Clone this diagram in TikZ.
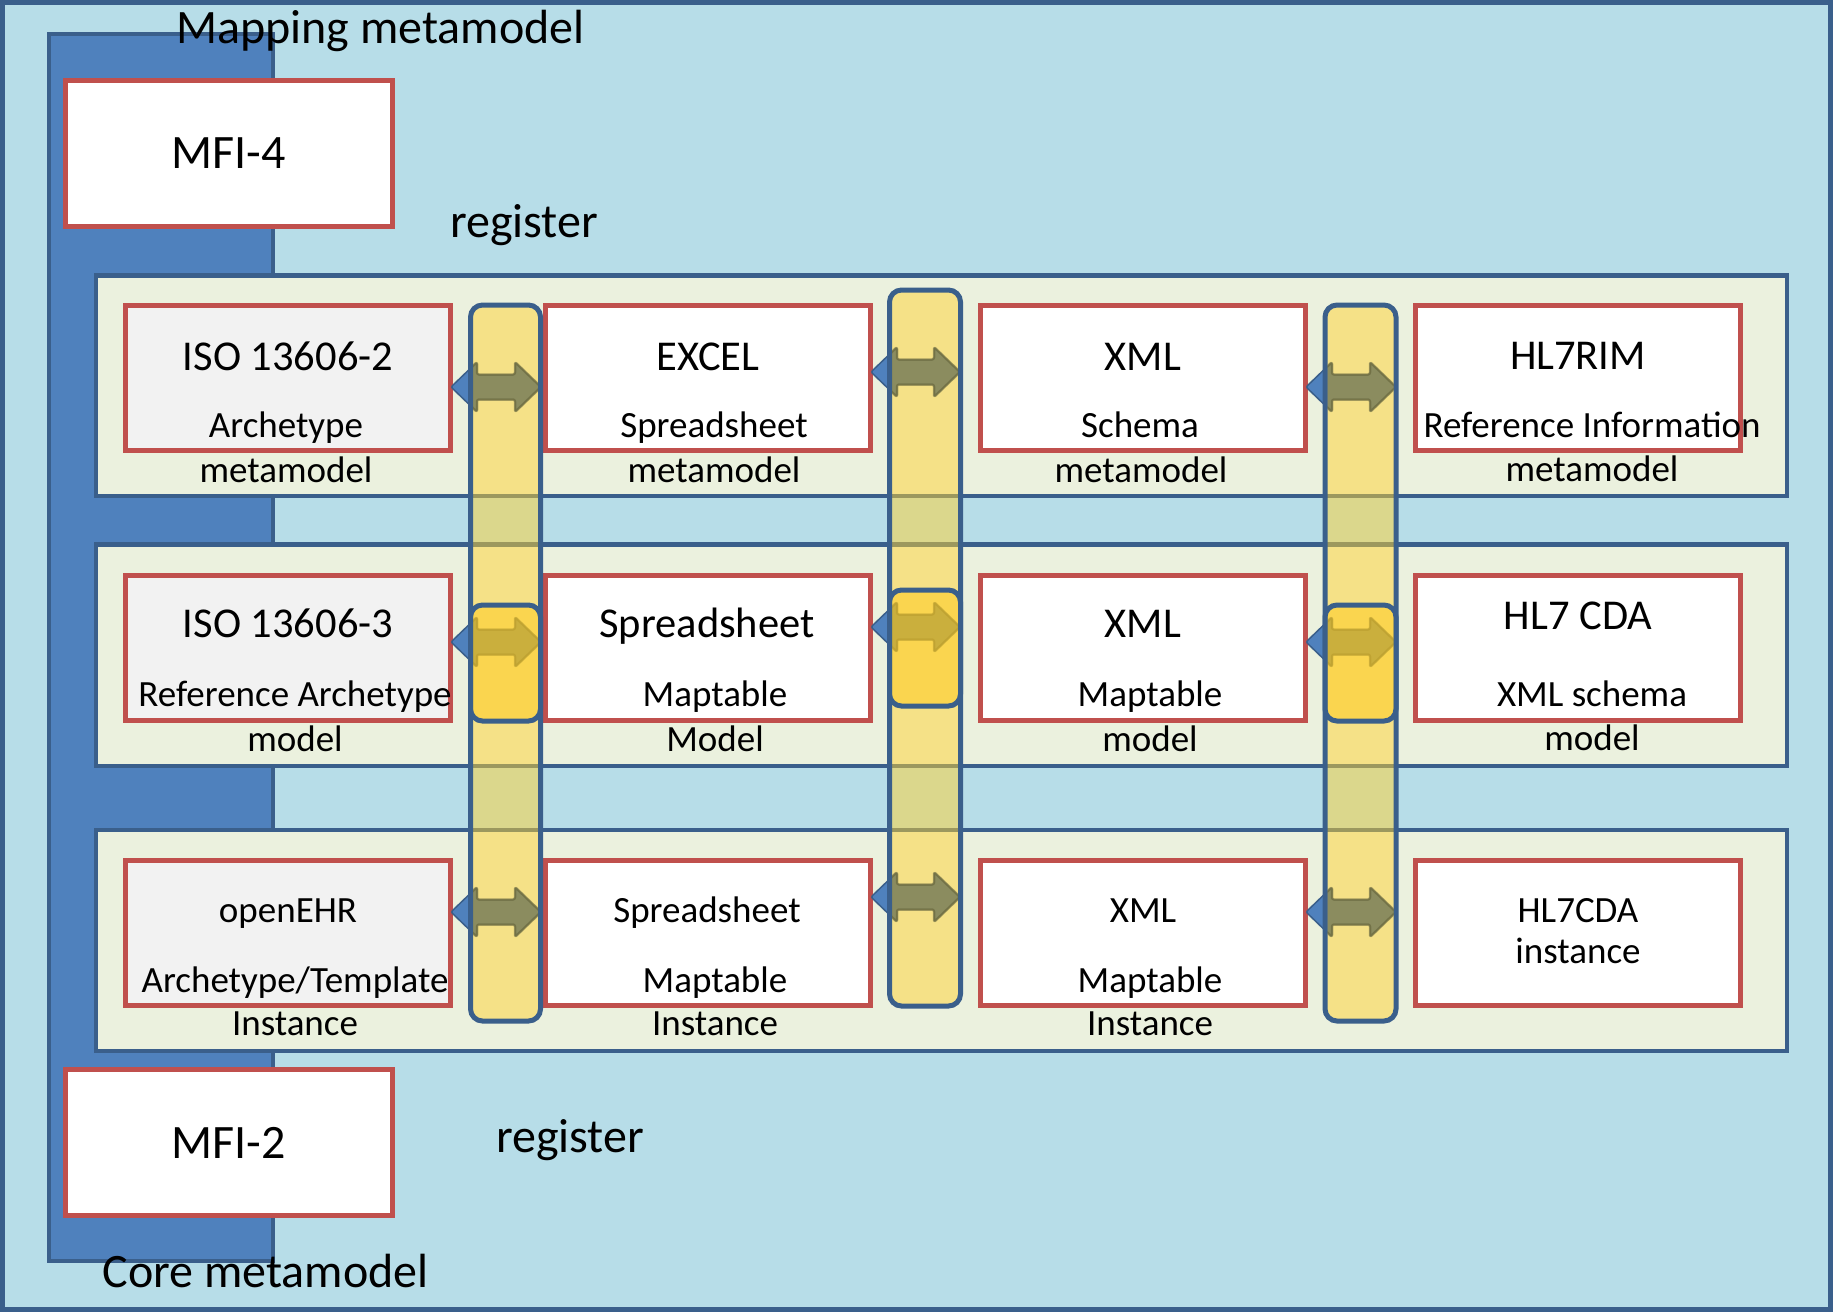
\documentclass[tikz,border=0pt]{standalone}
\usepackage{fontspec}
\setmainfont{Carlito}
\definecolor{lineblue}{HTML}{3A5F8B}
\definecolor{outerfill}{HTML}{B7DDE8}
\definecolor{barblue}{HTML}{4F81BD}
\definecolor{panelfill}{HTML}{EBF1DE}
\definecolor{boxred}{HTML}{C0504D}
\definecolor{boxgray}{HTML}{F2F2F2}
\definecolor{colyellow}{HTML}{FFD232}
\definecolor{hiyellow}{HTML}{FFCC22}
\definecolor{arrowblue}{HTML}{4F81BD}
\definecolor{olivedark}{HTML}{5E5E3A}
\newcommand\dblarr[4][]{%
  \path[#1, line join=round, rounded corners=2pt]
    (#2,#4) -- ++(26,-25) -- ++(0,12.5) -- (#3-26,#4-12.5) -- ++(0,-12.5) -- (#3,#4)
    -- (#3-26,#4+25) -- ++(0,-12.5) -- (#2+26,#4+12.5) -- ++(0,12.5) -- cycle;}
\begin{document}
\begin{tikzpicture}[x=1pt,y=-1pt,
  outerbox/.style={draw=lineblue, line width=4.5pt, fill=outerfill},
  barbox/.style={draw=lineblue, line width=4pt, fill=barblue},
  panelbox/.style={draw=lineblue, line width=4.5pt, fill=panelfill},
  itembox/.style={draw=boxred, line width=5pt, fill=white, minimum width=325pt, minimum height=145pt, inner sep=0pt},
  grayitem/.style={itembox, fill=boxgray},
  colbox/.style={draw=lineblue, line width=5pt, fill=colyellow, fill opacity=0.5, rounded corners=12pt},
  hibox/.style={draw=lineblue, line width=5pt, fill=hiyellow, fill opacity=0.55, rounded corners=12pt},
  bluearrow/.style={fill=arrowblue, draw=lineblue, line width=1.5pt},
  arrowshade/.style={fill=olivedark, fill opacity=0.38, draw=olivedark, draw opacity=0.45, line width=2.5pt},
  ttl/.style={font=\fontsize{42.5}{50}\selectfont, anchor=base, inner sep=0pt},
  sub/.style={font=\fontsize{37}{44}\selectfont, anchor=base, inner sep=0pt},
  lbl/.style={font=\fontsize{48}{57}\selectfont, anchor=base, inner sep=0pt}]
\useasboundingbox (0,0) rectangle (1833,1312);
% backgrounds
\path[outerbox] (2.5,2.5) rectangle (1830.5,1309.5);
\path[barbox] (49,34) rectangle (273,1261);
\path[panelbox] (96,275.5) rectangle (1787,496);
\path[panelbox] (96,544.5) rectangle (1787,766);
\path[panelbox] (96,830) rectangle (1787,1051);
% MFI boxes
\node[itembox, minimum width=327pt, minimum height=146pt] (mfi4) at (228.5,153) {};
\node[lbl] (mfi4t) at (228.5,168) {MFI-4};
\node[itembox, minimum width=327pt, minimum height=146pt] (mfi2) at (228.5,1142) {};
\node[lbl] (mfi2t) at (228.5,1158) {MFI-2};
% outer labels
\node[lbl] (mapping) at (380.5,43) {Mapping metamodel};
\node[lbl] (reg1) at (524,237) {register};
\node[lbl] (reg2) at (570,1152) {register};
\node[lbl] (core) at (265.6,1287) {Core metamodel};
% row 1
\node[grayitem] (a1) at (288,378) {};
\node[itembox] (b1) at (708,378) {};
\node[itembox] (c1) at (1142.5,378) {};
\node[itembox] (d1) at (1577.5,378) {};
% row 2
\node[grayitem] (a2) at (288,647.5) {};
\node[itembox] (b2) at (708,647.5) {};
\node[itembox] (c2) at (1142.5,647.5) {};
\node[itembox] (d2) at (1577.5,647.5) {};
% row 3
\node[grayitem] (a3) at (288,933) {};
\node[itembox] (b3) at (708,933) {};
\node[itembox] (c3) at (1142.5,933) {};
\node[itembox] (d3) at (1577.5,933) {};
% texts row 1
\node[ttl] (a1t) at (288,370) {ISO 13606-2};
\node[sub] (a1s) at (286,437) {Archetype};
\node[sub] (a1m) at (286,482) {metamodel};
\node[ttl] (b1t) at (708,370) {EXCEL};
\node[sub] (b1s) at (714,437) {Spreadsheet};
\node[sub] (b1m) at (714,482) {metamodel};
\node[ttl] (c1t) at (1143,370) {XML};
\node[sub] (c1s) at (1140,437) {Schema};
\node[sub] (c1m) at (1141,482) {metamodel};
\node[ttl] (d1t) at (1578,369) {HL7RIM};
\node[sub] (d1s) at (1592,437) {Reference Information};
\node[sub] (d1m) at (1592,481) {metamodel};
% texts row 2
\node[ttl] (a2t) at (288,637) {ISO 13606-3};
\node[sub] (a2s) at (295,706) {Reference Archetype};
\node[sub] (a2m) at (295,751) {model};
\node[ttl] (b2t) at (707,637) {Spreadsheet};
\node[sub] (b2s) at (715,706) {Maptable};
\node[sub] (b2m) at (715,751) {Model};
\node[ttl] (c2t) at (1143,637) {XML};
\node[sub] (c2s) at (1150,706) {Maptable};
\node[sub] (c2m) at (1150,751) {model};
\node[ttl] (d2t) at (1578,629) {HL7 CDA};
\node[sub] (d2s) at (1592,706) {XML schema};
\node[sub] (d2m) at (1592,750) {model};
% texts row 3
\node[sub] (a3t) at (288,922) {openEHR};
\node[sub] (a3s) at (295,992) {Archetype/Template};
\node[sub] (a3m) at (295,1035) {Instance};
\node[sub] (b3t) at (707,922) {Spreadsheet};
\node[sub] (b3s) at (715,992) {Maptable};
\node[sub] (b3m) at (715,1035) {Instance};
\node[sub] (c3t) at (1143,922) {XML};
\node[sub] (c3s) at (1150,992) {Maptable};
\node[sub] (c3m) at (1150,1035) {Instance};
\node[sub] (d3t) at (1578,922) {HL7CDA};
\node[sub] (d3s) at (1578,963) {instance};
% double arrows (blue base)
\dblarr[bluearrow]{451}{541}{387}
\dblarr[bluearrow]{451}{541}{642}
\dblarr[bluearrow]{451}{541}{912}
\dblarr[bluearrow]{871}{960}{372}
\dblarr[bluearrow]{871}{960}{627}
\dblarr[bluearrow]{871}{960}{897}
\dblarr[bluearrow]{1306}{1396}{387}
\dblarr[bluearrow]{1306}{1396}{642}
\dblarr[bluearrow]{1306}{1396}{912}
% mapping columns
\path[colbox] (470.5,305) rectangle (540.5,1021);
\path[colbox] (889.5,290) rectangle (960.5,1006);
\path[colbox] (1325,305) rectangle (1396,1021);
% arrow shading inside the columns
\begin{scope}
  \clip (473,305) rectangle (538,1021);
  \dblarr[arrowshade]{451}{541}{387}
  \dblarr[arrowshade]{451}{541}{642}
  \dblarr[arrowshade]{451}{541}{912}
\end{scope}
\begin{scope}
  \clip (892,290) rectangle (958,1006);
  \dblarr[arrowshade]{871}{960}{372}
  \dblarr[arrowshade]{871}{960}{627}
  \dblarr[arrowshade]{871}{960}{897}
\end{scope}
\begin{scope}
  \clip (1327.5,305) rectangle (1393.5,1021);
  \dblarr[arrowshade]{1306}{1396}{387}
  \dblarr[arrowshade]{1306}{1396}{642}
  \dblarr[arrowshade]{1306}{1396}{912}
\end{scope}
% highlighted row-2 segments
\path[hibox] (470.5,605) rectangle (540.5,721);
\path[hibox] (889.5,590) rectangle (960.5,706);
\path[hibox] (1325,605) rectangle (1396,721);
\end{tikzpicture}
\end{document}
